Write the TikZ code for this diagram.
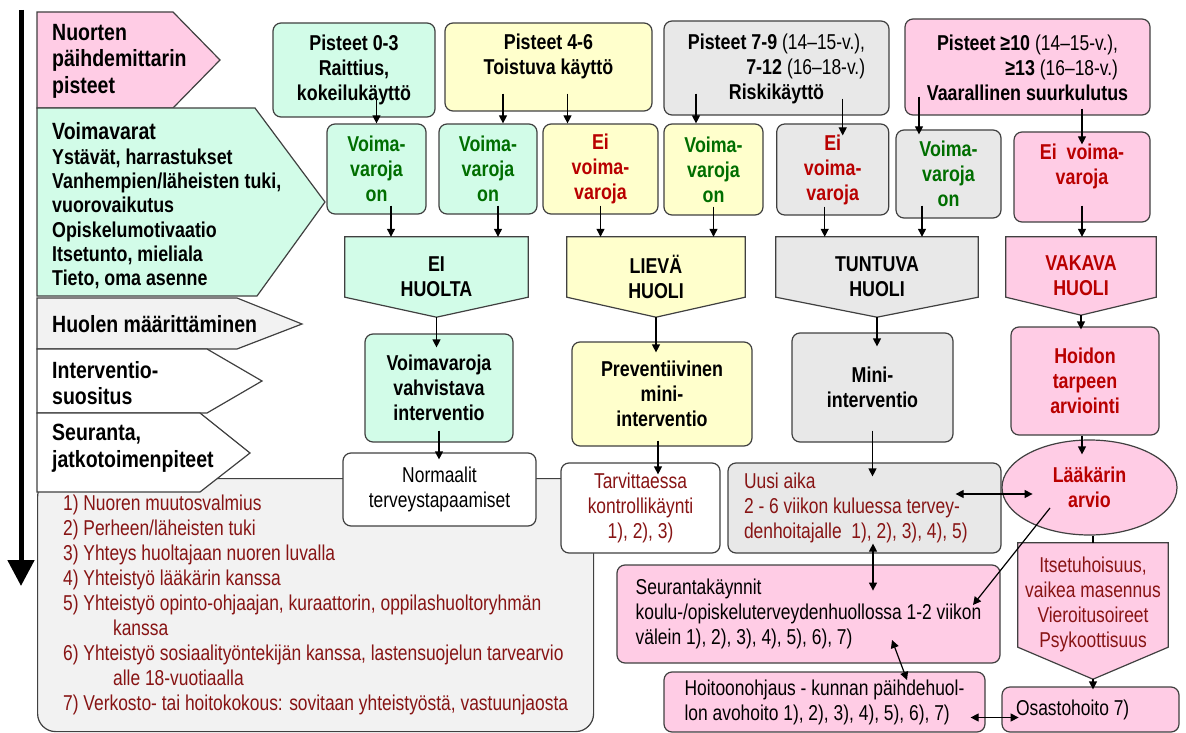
\documentclass[tikz,border=0pt]{standalone}
\usepackage{fontspec}
\setmainfont{Liberation Sans}[UprightFeatures={FakeStretch=0.81},BoldFeatures={FakeStretch=0.83}]
\usetikzlibrary{positioning,shapes.geometric,arrows.meta,backgrounds}

\definecolor{mint}{RGB}{210,252,232}
\definecolor{lemon}{RGB}{255,255,204}
\definecolor{ash}{RGB}{232,232,232}
\definecolor{rose}{RGB}{255,204,229}
\definecolor{pale}{RGB}{242,242,242}
\definecolor{edge}{RGB}{64,64,64}
\definecolor{okgreen}{RGB}{0,110,0}
\definecolor{alarm}{RGB}{185,0,0}
\definecolor{maroon}{RGB}{135,20,20}

\newcommand{\fsz}{\fontsize{21.5}{25}\selectfont}
\newcommand{\fbig}{\fontsize{23.5}{26.5}\selectfont}

\tikzset{
  box/.style={draw=edge, line width=1.2pt, rounded corners=8pt, align=center, inner sep=2pt, font=\fsz\bfseries},
  txtbox/.style={box, font=\fsz},
  tight/.style={execute at begin node={\spaceskip=0pt\xspaceskip=0pt}},
  pent/.style={align=center, inner sep=0pt, font=\fsz\bfseries, minimum height=80},
  lbl/.style={anchor=west, align=left, inner sep=0pt, font=\fbig\bfseries},
  outl/.style={draw=edge, line width=1.2pt},
  arr/.style={line width=1.2pt, -{Triangle[length=8pt,width=8pt]}},
  darr/.style={line width=1.2pt, {Triangle[length=8pt,width=8pt]}-{Triangle[length=8pt,width=8pt]}}
}

\begin{document}
\begin{tikzpicture}[x=1pt,y=-1pt]
\useasboundingbox (0,0) rectangle (1186,733);

% legend of the numbered follow-up actions
\node[txtbox, fill=pale, text=maroon, anchor=north west, minimum width=556, minimum height=253, align=left, rounded corners=18pt] (leg) at (37,478) {1) Nuoren muutosvalmius\\
2) Perheen/läheisten tuki\\
3) Yhteys huoltajaan nuoren luvalla\\
4) Yhteistyö lääkärin kanssa\\
5) Yhteistyö opinto-ohjaajan, kuraattorin, oppilashuoltoryhmän\\
\hspace*{50pt}kanssa\\
6) Yhteistyö sosiaalityöntekijän kanssa, lastensuojelun tarvearvio\\
\hspace*{50pt}alle 18-vuotiaalla\\
7) Verkosto- tai hoitokokous: sovitaan yhteistyöstä, vastuunjaosta};

% left column
\draw[outl, fill=rose] (37,12) -- (173,12) -- (220,60) -- (173,108) -- (37,108) -- cycle;
\draw[outl, fill=mint] (37,108) -- (255,108) -- (325,202) -- (257,296) -- (37,296) -- cycle;
\draw[outl, fill=pale] (37,298) -- (237,298) -- (302,324) -- (237,349) -- (37,349) -- cycle;
\draw[outl, fill=white] (37,349) -- (207,349) -- (262,381) -- (207,413) -- (37,413) -- cycle;
\draw[outl, fill=white] (37,413) -- (200,413) -- (250,453) -- (200,492) -- (37,492) -- cycle;
\node[lbl] (nuo) at (52,61) {Nuorten\\päihdemittarin\\pisteet};
\node[lbl, font=\fontsize{21.5}{24.3}\selectfont\bfseries] (voi) at (52,206) {{\fbig Voimavarat}\\Ystävät, harrastukset\\Vanhempien/läheisten tuki,\\vuorovaikutus\\Opiskelumotivaatio\\Itsetunto, mieliala\\Tieto, oma asenne};
\node[lbl] (huo) at (52,324) {Huolen määrittäminen};
\node[lbl] (int) at (52,383) {Interventio-\\suositus};
\node[lbl] (seu) at (52,448) {Seuranta,\\jatkotoimenpiteet};

\coordinate (flowtop) at (21,10);
\coordinate (flowend) at (21,586);
\draw[line width=5pt, -{Triangle[length=26pt,width=26pt]}] (flowtop) -- (flowend);

% scores
\node[box, fill=mint, minimum width=162, minimum height=94] (b1) at (354,70) {Pisteet 0-3\\Raittius,\\kokeilukäyttö};
\node[box, fill=lemon, minimum width=207, minimum height=88] (b2) at (548.5,67) {Pisteet 4-6\\Toistuva käyttö\\\mbox{}};
\node[box, fill=ash, minimum width=225, minimum height=94] (b3) at (776.5,68) {\begin{tabular}[b]{@{}r@{}}Pisteet 7-9 \textmd{(14–15-v.),}\\ 7-12 \textmd{(16–18-v.)}\end{tabular}\\Riskikäyttö};
\node[box, fill=rose, minimum width=245, minimum height=96] (b4) at (1027.5,67) {\begin{tabular}[b]{@{}r@{}}Pisteet ≥10 \textmd{(14–15-v.),}\\ ≥13 \textmd{(16–18-v.)}\end{tabular}\\Vaarallinen suurkulutus};

% resources
\node[box, fill=mint, text=okgreen, minimum width=99, minimum height=90] (v1) at (376.5,169) {Voima-\\varoja\\on};
\node[box, fill=mint, text=okgreen, minimum width=98, minimum height=90] (v2) at (488,169) {Voima-\\varoja\\on};
\node[box, fill=lemon, text=alarm, minimum width=115, minimum height=90] (v3) at (600.5,169) {Ei\\voima-\\varoja};
\node[box, fill=lemon, text=okgreen, minimum width=99, minimum height=91] (v4) at (713.5,169.5) {Voima-\\varoja\\on};
\node[box, fill=ash, text=alarm, minimum width=112, minimum height=91] (v5) at (832.7,169.5) {Ei\\voima-\\varoja};
\node[box, fill=ash, text=okgreen, minimum width=105, minimum height=88] (v6) at (948.5,174) {Voima-\\varoja\\on};
\node[box, fill=rose, text=alarm, minimum width=136, minimum height=90] (v7) at (1082,177) {Ei~ voima-\\varoja\\\mbox{}};

% level of concern
\node[pent, minimum width=183] (p1) at (436.5,277) {EI\\HUOLTA};
\node[pent, minimum width=178] (p2) at (656,277) {LIEVÄ\\HUOLI};
\node[pent, minimum width=202] (p3) at (877,277) {TUNTUVA\\HUOLI};
\node[pent, text=alarm, minimum width=150, minimum height=78] (p4) at (1081,276) {VAKAVA\\HUOLI};

% interventions
\node[box, fill=mint, minimum width=148, minimum height=108] (i1) at (439,388) {Voimavaroja\\vahvistava\\interventio};
\node[box, fill=lemon, minimum width=180, minimum height=104] (i2) at (662,394) {Preventiivinen\\mini-\\interventio};
\node[box, fill=ash, minimum width=161, minimum height=109] (i3) at (872.5,387.5) {Mini-\\interventio};
\node[box, fill=rose, text=alarm, minimum width=148, minimum height=108] (i4) at (1085,381) {Hoidon\\tarpeen\\arviointi};

% follow-up
\node[txtbox, fill=white, minimum width=193, minimum height=73] (n1) at (439.5,489.5) {Normaalit\\terveystapaamiset};
\node[txtbox, fill=white, text=maroon, minimum width=159, minimum height=90] (n2) at (640.5,508) {Tarvittaessa\\kontrollikäynti\\1), 2), 3)};
\node[txtbox, tight, fill=ash, text=maroon, minimum width=273, minimum height=90, text width=241, align=left] (n3) at (864.5,508) {Uusi aika\\2 - 6 viikon kuluessa tervey-\\denhoitajalle~ 1), 2), 3), 4), 5)};
\node[ellipse, draw=edge, line width=1.2pt, fill=rose, text=alarm, minimum width=175, minimum height=95, inner sep=0pt, align=center, font=\fsz\bfseries] (ell) at (1089.5,487.5) {Lääkärin\\arvio};
\node[pent, font=\fsz, text=maroon, minimum width=150, minimum height=122] (it) at (1093,604) {Itsetuhoisuus,\\vaikea masennus\\Vieroitusoireet\\Psykoottisuus};
\node[txtbox, fill=rose, minimum width=383, minimum height=98, align=left] (s1) at (808.5,614) {Seurantakäynnit\\koulu-/opiskeluterveydenhuollossa 1-2 viikon\\välein 1), 2), 3), 4), 5), 6), 7)};
\node[txtbox, fill=rose, minimum width=321, minimum height=60, align=left] (h1) at (824.5,702) {Hoitoonohjaus - kunnan päihdehuol-\\lon avohoito 1), 2), 3), 4), 5), 6), 7)};
\node[txtbox, tight, fill=rose, minimum width=177, minimum height=45, text width=149, align=left] (o1) at (1090.5,709.5) {Osastohoito 7)};

\begin{scope}[on background layer]
\draw[outl, fill=mint] (p1.north west) -- (p1.north east) -- ([yshift=20pt]p1.south east) -- (p1.south) -- ([yshift=20pt]p1.south west) -- cycle;
\draw[outl, fill=lemon] (p2.north west) -- (p2.north east) -- ([yshift=20pt]p2.south east) -- (p2.south) -- ([yshift=20pt]p2.south west) -- cycle;
\draw[outl, fill=ash] (p3.north west) -- (p3.north east) -- ([yshift=20pt]p3.south east) -- (p3.south) -- ([yshift=20pt]p3.south west) -- cycle;
\draw[outl, fill=rose] (p4.north west) -- (p4.north east) -- ([yshift=18pt]p4.south east) -- (p4.south) -- ([yshift=18pt]p4.south west) -- cycle;
\draw[outl, fill=rose] (it.north west) -- (it.north east) -- ([yshift=18pt]it.south east) -- ([yshift=-14pt]it.south) -- ([yshift=18pt]it.south west) -- cycle;
\end{scope}

% scores to resources
\draw[arr] ([yshift=22pt]b1.south -| v1) -- (v1.north);
\draw[arr] ([xshift=15pt,yshift=18pt]b2.south -| v2) -- ([xshift=15pt]v2.north);
\draw[arr] ([xshift=-33pt,yshift=18pt]b2.south -| v3) -- ([xshift=-33pt]v3.north);
\draw[arr] ([xshift=-17.5pt,yshift=22pt]b3.south -| v4) -- ([xshift=-17.5pt]v4.north);
\draw[arr] ([xshift=10pt,yshift=17pt]b3.south -| v5) -- ([xshift=10pt,yshift=-12pt]v5.north);
\draw[arr] ([xshift=-29.5pt,yshift=19pt]b4.south -| v6) -- ([xshift=-29.5pt,yshift=-5pt]v6.north);
\draw[arr] ([yshift=7pt]b4.south -| v7) -- ([yshift=-13pt]v7.north);

% resources to concern
\draw[arr] ([xshift=14.5pt,yshift=9pt]v1.south) -- ([xshift=14.5pt]v1.south |- p1.north);
\draw[arr] ([xshift=10pt,yshift=9pt]v2.south) -- ([xshift=10pt]v2.south |- p1.north);
\draw[arr] ([yshift=9pt]v3.south) -- (v3.south |- p2.north);
\draw[arr] ([yshift=9pt]v4.south) -- (v4.south |- p2.north);
\draw[arr] ([xshift=-8pt,yshift=9pt]v5.south) -- ([xshift=-8pt]v5.south |- p3.north);
\draw[arr] ([xshift=-26.5pt,yshift=13pt]v6.south) -- ([xshift=-26.5pt]v6.south |- p3.north);
\draw[arr] ([yshift=17pt]v7.south) -- (v7.south |- p4.north);

% concern to intervention
\draw[arr] (p1.south) -- ([yshift=-14pt]p1.south |- i1.north);
\draw[arr] (p2.south) -- ([yshift=-11pt]p2.south |- i2.north);
\draw[arr] (p3.south) -- ([yshift=-14pt]p3.south |- i3.north);
\draw[arr] (p4.south) -- ([yshift=-3pt]p4.south |- i4.north);

% intervention to follow-up
\draw[arr] ([yshift=12pt]i1.south) -- ([yshift=-7pt]i1.south |- n1.north);
\draw[arr] ([xshift=-4pt,yshift=6pt]i2.south) -- ([xshift=-4pt,yshift=-12pt]i2.south |- n2.north);
\draw[arr] ([yshift=12pt]i3.south) -- ([yshift=-14pt]i3.south |- n3.north);
\draw[arr] ([xshift=-3pt]i4.south) -- ([xshift=-3pt,yshift=-15pt]i4.south |- ell.north);

\draw[darr] ([xshift=-46pt,yshift=14pt]n3.east) -- ++(77,0);
\draw[darr] ([xshift=8.5pt,yshift=10pt]n3.south) -- ++(0,47);
\draw[darr] ([xshift=83.5pt,yshift=-26pt]s1.center) -- ++(15,40);
\draw[darr] ([xshift=-15pt,yshift=-15.5pt]h1.east) -- ++(48,0);
\draw[arr] ([xshift=-39.5pt,yshift=-20.5pt]ell.center) -- ++(-77,97);
\draw[line width=1.2pt] (it.north |- ell.south) -- (it.north);
\draw[arr] ([yshift=-14pt]it.south) -- ([yshift=-3pt]it.south |- o1.north);
\end{tikzpicture}
\end{document}
